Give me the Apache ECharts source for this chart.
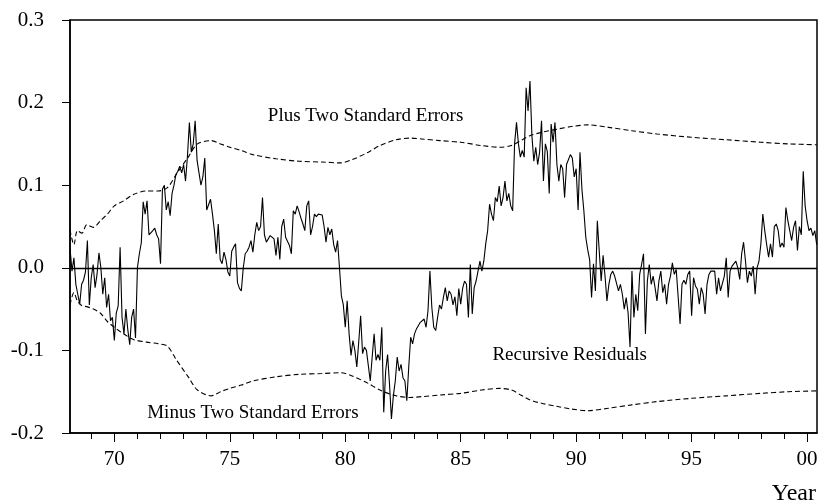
<!DOCTYPE html>
<html>
<head>
<meta charset="utf-8">
<script src="https://cdn.jsdelivr.net/npm/echarts@6/dist/echarts.min.js"></script>
<style>
html,body{margin:0;padding:0;background:#fff;}
#chart{width:821px;height:504px;}
</style>
</head>
<body>
<div id="chart"></div>
<script>
// Monthly recursive residuals, first observation 1968:02 (year shown as 68 .. 100)
const startYear = 68;
const startMonth = 2;
const residuals = [
  // 1968 (Feb-Dec)
  0.023, -0.004, 0.012, -0.02, -0.032, -0.044, -0.02, -0.015, -0.005, 0.033, -0.045,
  // 1969
  -0.012, 0.004, -0.024, -0.008, 0.018, 0.0, -0.032, -0.012, -0.048, -0.032, -0.064, -0.06,
  // 1970
  -0.088, -0.055, -0.046, 0.025, -0.06, -0.08, -0.05, -0.075, -0.093, -0.06, -0.05, -0.085,
  // 1971
  0.0, 0.017, 0.03, 0.08, 0.065, 0.081, 0.04, 0.04, 0.045, 0.048, 0.04, 0.035,
  // 1972
  0.005, 0.095, 0.1, 0.07, 0.08, 0.063, 0.09, 0.1, 0.113, 0.117, 0.123, 0.115,
  // 1973
  0.125, 0.105, 0.135, 0.176, 0.14, 0.15, 0.178, 0.13, 0.115, 0.1, 0.11, 0.133,
  // 1974
  0.07, 0.072, 0.083, 0.065, 0.045, 0.017, 0.053, 0.01, 0.005, 0.019, 0.01, -0.005,
  // 1975
  -0.01, 0.02, 0.025, 0.029, -0.018, -0.025, -0.028, 0.0, 0.017, 0.02, 0.025, 0.033,
  // 1976
  0.019, 0.04, 0.055, 0.045, 0.05, 0.085, 0.04, 0.031, 0.035, 0.039, 0.038, 0.035,
  // 1977
  0.015, 0.037, 0.01, 0.05, 0.059, 0.037, 0.035, 0.027, 0.017, 0.069, 0.065, 0.075,
  // 1978
  0.068, 0.06, 0.053, 0.045, 0.075, 0.081, 0.04, 0.05, 0.065, 0.062, 0.065, 0.067,
  // 1979
  0.064, 0.05, 0.031, 0.049, 0.04, 0.047, 0.028, 0.019, 0.033, 0.0, -0.034, -0.045,
  // 1980
  -0.072, -0.04, -0.08, -0.106, -0.088, -0.1, -0.12, -0.09, -0.058, -0.104, -0.096, -0.1,
  // 1981
  -0.1, -0.137, -0.108, -0.08, -0.112, -0.105, -0.112, -0.072, -0.175, -0.125, -0.105, -0.141,
  // 1982
  -0.183, -0.155, -0.137, -0.108, -0.125, -0.117, -0.133, -0.137, -0.161, -0.12, -0.084, -0.092,
  // 1983
  -0.08, -0.074, -0.072, -0.066, -0.064, -0.062, -0.072, -0.052, -0.004, -0.048, -0.072, -0.076,
  // 1984
  -0.06, -0.045, -0.05, -0.036, -0.024, -0.04, -0.028, -0.032, -0.045, -0.035, -0.058, -0.025,
  // 1985
  -0.044, -0.025, -0.016, -0.02, -0.06, 0.004, -0.056, -0.024, -0.016, -0.004, 0.008, -0.004,
  // 1986
  0.008, 0.029, 0.045, 0.077, 0.065, 0.057, 0.085, 0.08, 0.099, 0.075, 0.085, 0.105,
  // 1987
  0.081, 0.09, 0.075, 0.069, 0.15, 0.176, 0.15, 0.134, 0.142, 0.134, 0.218, 0.19,
  // 1988
  0.226, 0.16, 0.129, 0.146, 0.125, 0.14, 0.178, 0.105, 0.15, 0.141, 0.09, 0.174,
  // 1989
  0.152, 0.176, 0.125, 0.105, 0.125, 0.12, 0.085, 0.125, 0.125, 0.137, 0.133, 0.11,
  // 1990
  0.12, 0.07, 0.14, 0.095, 0.069, 0.037, 0.022, 0.01, -0.036, 0.005, -0.028, 0.057,
  // 1991
  0.02, -0.016, 0.015, -0.01, -0.04, -0.02, -0.008, -0.004, -0.01, -0.012, -0.028, -0.02,
  // 1992
  -0.032, -0.05, -0.036, -0.055, -0.096, -0.004, -0.06, -0.032, -0.052, -0.008, 0.004, 0.017,
  // 1993
  -0.08, -0.016, 0.004, -0.02, -0.01, -0.024, -0.04, -0.016, -0.004, -0.03, -0.02, -0.044,
  // 1994
  -0.02, -0.01, 0.006, -0.008, -0.002, 0.0, -0.068, -0.02, -0.015, -0.02, -0.008, -0.004,
  // 1995
  -0.058, -0.012, -0.022, -0.026, -0.044, -0.024, -0.032, -0.056, -0.02, -0.008, -0.004, -0.002,
  // 1996
  -0.004, -0.032, -0.012, -0.028, -0.03, -0.01, 0.012, -0.036, -0.004, 0.002, 0.0, 0.008,
  // 1997
  0.0, -0.014, 0.017, 0.031, 0.008, -0.018, -0.004, -0.01, 0.002, -0.032, 0.0, 0.008,
  // 1998
  0.029, 0.065, 0.045, 0.028, 0.013, 0.029, 0.013, 0.05, 0.053, 0.045, 0.025, 0.03,
  // 1999
  0.025, 0.073, 0.057, 0.045, 0.033, 0.049, 0.057, 0.021, 0.05, 0.04, 0.117, 0.075,
  // 2000 (Jan-Jun)
  0.057, 0.045, 0.048, 0.039, 0.045, 0.028
];

// Two-standard-error bands, read at selected dates
const bandYears = [68.08, 68.25, 68.4, 68.6, 68.8, 69.1, 69.4, 69.7, 70.0, 70.4, 70.85, 71.4, 71.9, 72.3, 72.7, 73.2, 73.6, 74.2, 74.6, 75.0, 75.5, 76.0, 77.0, 78.0, 79.0, 79.8, 80.3, 81.0, 81.5, 82.2, 82.8, 83.3, 84.1, 85.0, 85.9, 86.7, 87.2, 87.6, 88.0, 88.5, 89.2, 89.8, 90.5, 91.4, 92.4, 93.5, 95.0, 96.5, 98.0, 99.2, 100.42];
const plusBand = [0.046, 0.028, 0.045, 0.042, 0.052, 0.049, 0.057, 0.065, 0.075, 0.081, 0.089, 0.093, 0.093, 0.097, 0.114, 0.134, 0.15, 0.154, 0.15, 0.146, 0.142, 0.137, 0.132, 0.129, 0.128, 0.127, 0.131, 0.14, 0.148, 0.155, 0.157, 0.156, 0.154, 0.152, 0.148, 0.146, 0.148, 0.154, 0.16, 0.164, 0.168, 0.171, 0.173, 0.17, 0.166, 0.162, 0.158, 0.155, 0.152, 0.15, 0.149];
const minusBand = [-0.045, -0.03, -0.04, -0.046, -0.047, -0.05, -0.055, -0.065, -0.072, -0.08, -0.087, -0.09, -0.092, -0.095, -0.112, -0.132, -0.148, -0.155, -0.15, -0.146, -0.142, -0.137, -0.132, -0.129, -0.128, -0.127, -0.131, -0.14, -0.148, -0.155, -0.157, -0.156, -0.154, -0.152, -0.148, -0.146, -0.148, -0.154, -0.16, -0.164, -0.168, -0.171, -0.173, -0.17, -0.166, -0.162, -0.158, -0.155, -0.152, -0.15, -0.149];

// Axis ticks and labels
const xMinorTicks = [69, 70, 71, 72, 73, 74, 75, 76, 77, 78, 79, 80, 81, 82, 83, 84, 85, 86, 87, 88, 89, 90, 91, 92, 93, 94, 95, 96, 97, 98, 99, 100];
const xMajorTicks = [70, 75, 80, 85, 90, 95, 100];
const xRange = [68.08, 100.43];
const yRange = [-0.2, 0.3];
const yStep = 0.1;

// Text annotations: [text, year, value]
const annotations = [
  ['Plus Two Standard Errors', 80.88, 0.184],
  ['Minus Two Standard Errors', 76.0, -0.1755],
  ['Recursive Residuals', 89.72, -0.105]
];
const xAxisTitle = 'Year';

const FONT = "'Liberation Serif', 'Times New Roman', serif";

const resData = residuals.map((v, i) => [startYear + (startMonth - 1 + i) / 12, v]);
const plusData = bandYears.map((t, i) => [t, plusBand[i]]);
const minusData = bandYears.map((t, i) => [t, minusBand[i]]);

const chart = echarts.init(document.getElementById('chart'), null, {renderer: 'canvas'});
chart.setOption({
  animation: false,
  backgroundColor: '#fff',
  grid: {left: 70, right: 4, top: 20, bottom: 71, show: true, borderColor: '#000', borderWidth: 1.5, backgroundColor: 'transparent'},
  xAxis: [
    {
      type: 'value', min: xRange[0], max: xRange[1], position: 'bottom',
      axisLine: {show: true, onZero: false, lineStyle: {color: '#000', width: 1.5}},
      axisTick: {show: true, length: 6, customValues: xMinorTicks, lineStyle: {color: '#000', width: 1}},
      axisLabel: {show: false},
      splitLine: {show: false}
    },
    {
      type: 'value', min: xRange[0], max: xRange[1], position: 'bottom', gridIndex: 0,
      axisLine: {show: false, onZero: false},
      axisTick: {show: true, length: 9, customValues: xMajorTicks, lineStyle: {color: '#000', width: 1}},
      axisLabel: {show: true, customValues: xMajorTicks, margin: 16, color: '#000', fontFamily: FONT, fontSize: 21,
        formatter: v => String(Math.round(v) % 100).padStart(2, '0')},
      splitLine: {show: false}
    }
  ],
  yAxis: {
    type: 'value', min: yRange[0], max: yRange[1], interval: yStep,
    axisLine: {show: true, onZero: false, lineStyle: {color: '#000', width: 1.5}},
    axisTick: {show: true, length: 8, lineStyle: {color: '#000', width: 1}},
    axisLabel: {show: true, margin: 26, color: '#000', fontFamily: FONT, fontSize: 21,
      formatter: v => v.toFixed(1)},
    splitLine: {show: false}
  },
  graphic: [{
    type: 'text', right: 5, top: 482,
    style: {text: xAxisTitle, fill: '#000', font: "24px 'Liberation Serif', 'Times New Roman', serif"}
  }],
  series: [
    {
      name: 'Recursive Residuals', type: 'line', xAxisIndex: 0, data: resData,
      showSymbol: false, symbol: 'none',
      lineStyle: {color: '#000', width: 1.1},
      markLine: {
        silent: true, symbol: ['none', 'none'], label: {show: false},
        lineStyle: {color: '#000', width: 1.3, type: 'solid'},
        data: [{yAxis: 0}]
      },
      markPoint: {
        silent: true, symbol: 'circle', symbolSize: 0,
        label: {show: true, position: 'inside', color: '#000', fontFamily: FONT, fontSize: 19,
          formatter: p => p.name},
        data: annotations.map(a => ({name: a[0], coord: [a[1], a[2]]}))
      }
    },
    {
      name: 'Plus Two Standard Errors', type: 'line', xAxisIndex: 0, data: plusData,
      showSymbol: false, symbol: 'none', smooth: 0.3,
      lineStyle: {color: '#000', width: 1.1, type: [5, 3]}
    },
    {
      name: 'Minus Two Standard Errors', type: 'line', xAxisIndex: 0, data: minusData,
      showSymbol: false, symbol: 'none', smooth: 0.3,
      lineStyle: {color: '#000', width: 1.1, type: [5, 3]}
    }
  ]
});
</script>
</body>
</html>
